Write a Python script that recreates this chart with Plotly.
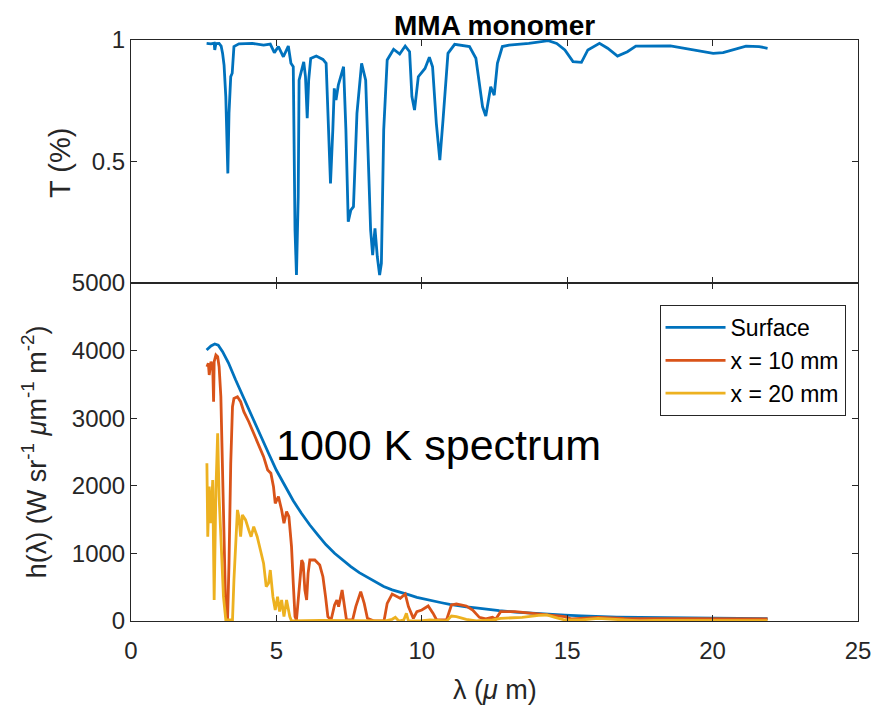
import plotly.graph_objects as go

# ---------------- data ----------------
lam_T = [2.60, 2.75, 2.86, 2.88, 2.92, 3.03, 3.10, 3.15, 3.20, 3.26, 3.33, 3.37, 3.43, 3.48, 3.54,
         3.71, 4.17, 4.56, 4.79, 4.93, 5.07, 5.24, 5.41, 5.50, 5.58, 5.64, 5.69, 5.75, 5.78, 5.86,
         5.94, 6.00, 6.06, 6.11, 6.18, 6.37, 6.60, 6.71, 6.77, 6.86, 6.94, 6.99, 7.05, 7.13, 7.31,
         7.39, 7.47, 7.56, 7.65, 7.77, 7.93, 8.07, 8.24, 8.31, 8.39, 8.47, 8.55, 8.61, 8.69, 8.81,
         9.03, 9.24, 9.43, 9.58, 9.66, 9.75, 9.88, 10.11, 10.26, 10.37, 10.50, 10.62, 10.73, 10.90,
         11.13, 11.64, 11.86, 12.09, 12.20, 12.37, 12.49, 12.60, 12.77, 13.00, 13.68, 14.35, 14.64,
         14.92, 15.20, 15.49, 15.71, 16.11, 16.39, 16.73, 17.07, 17.36, 18.55, 19.22, 20.02, 20.36,
         21.15, 21.60, 21.89]
T_vals = [0.986, 0.984, 0.987, 0.959, 0.985, 0.986, 0.975, 0.945, 0.897, 0.767, 0.451, 0.698, 0.849, 0.863, 0.973,
          0.984, 0.986, 0.979, 0.983, 0.948, 0.973, 0.931, 0.975, 0.904, 0.890, 0.218, 0.033, 0.355, 0.835, 0.869,
          0.910, 0.849, 0.678, 0.835, 0.924, 0.934, 0.920, 0.904, 0.684, 0.410, 0.630, 0.801, 0.753, 0.815, 0.890,
          0.630, 0.252, 0.300, 0.314, 0.698, 0.904, 0.835, 0.218, 0.115, 0.225, 0.108, 0.033, 0.081, 0.630, 0.918,
          0.962, 0.942, 0.975, 0.952, 0.767, 0.712, 0.849, 0.883, 0.929, 0.890, 0.657, 0.506, 0.671, 0.945,
          0.982, 0.973, 0.925, 0.725, 0.687, 0.808, 0.773, 0.904, 0.973, 0.979, 0.986, 0.997, 0.986,
          0.959, 0.911, 0.908, 0.959, 0.986, 0.966, 0.934, 0.952, 0.975, 0.976, 0.961, 0.945, 0.948,
          0.975, 0.973, 0.966]

lam_surf = [2.60, 2.75, 2.88, 3.00, 3.15, 3.35, 3.60, 3.88, 4.17, 4.45, 4.73, 5.00, 5.30, 5.58, 5.86,
            6.15, 6.43, 6.70, 7.00, 7.28, 7.56, 7.85, 8.13, 8.41, 8.69, 8.98, 9.26, 9.54, 9.83, 10.11,
            10.39, 10.68, 10.96, 11.25, 11.53, 11.86, 12.20, 12.66, 13.22, 13.79, 14.35, 14.92, 15.49,
            16.06, 16.70, 17.50, 18.50, 19.50, 20.50, 21.89]
h_surf = [4010, 4070, 4097, 4080, 3984, 3820, 3565, 3290, 3022, 2750, 2481, 2230, 1987, 1780, 1593,
          1420, 1272, 1130, 1001, 900, 804, 715, 650, 575, 510, 460, 430, 390, 350, 320,
          295, 270, 245, 225, 210, 195, 175, 153, 132, 113, 100, 86, 75,
          65, 58, 52, 48, 43, 38, 34]

lam_10 = [2.61, 2.66, 2.69, 2.75, 2.81, 2.84, 2.86, 2.92, 2.98, 3.03, 3.09, 3.15, 3.20, 3.26, 3.32,
          3.37, 3.43, 3.49, 3.54, 3.66, 3.77, 3.88, 4.05, 4.22, 4.39, 4.56, 4.70, 4.81, 4.90, 4.96,
          5.07, 5.18, 5.26, 5.35, 5.43, 5.52, 5.58, 5.64, 5.69, 5.78, 5.87, 5.92, 5.98, 6.04, 6.09,
          6.15, 6.32, 6.49, 6.60, 6.69, 6.77, 6.88, 7.00, 7.08, 7.14, 7.26, 7.33, 7.41, 7.62, 7.73,
          7.90, 8.02, 8.13, 8.36, 8.70, 8.81, 8.98, 9.15, 9.26, 9.43, 9.54, 9.71, 9.83, 10.00, 10.22,
          10.39, 10.51, 10.85, 11.02, 11.19, 11.53, 11.75, 11.98, 12.20, 12.43, 12.54, 12.71, 13.22,
          13.79, 14.24, 14.58, 14.92, 15.15, 16.06, 16.96, 18.00, 19.50, 21.89]
h_10 = [3762, 3811, 3639, 3836, 3762, 3244, 3836, 3935, 3910, 3762, 3318, 2333, 1099, 114, 15,
        853, 2333, 3170, 3293, 3318, 3244, 3096, 2948, 2776, 2579, 2431, 2234, 2185, 1988, 1741,
        1840, 1643, 1446, 1618, 1544, 1099, 557, 65, 15, 409, 902, 852, 459, 311, 705,
        902, 902, 828, 655, 360, 65, 15, 237, 311, 212, 459, 261, 15, 15, 212,
        434, 261, 40, 0, 0, 261, 399, 360, 335, 399, 212, 39, 138, 163, 222,
        113, 15, 15, 237, 251, 222, 163, 54, 30, 54, 25, 138, 138,
        113, 104, 89, 64, 30, 54, 39, 39, 30, 30]

lam_20 = [2.61, 2.64, 2.69, 2.75, 2.81, 2.86, 2.92, 2.98, 3.03, 3.09, 3.18, 3.26, 3.49, 3.54, 3.60,
          3.66, 3.71, 3.77, 3.83, 3.94, 4.05, 4.13, 4.22, 4.34, 4.45, 4.56, 4.65, 4.73, 4.79, 4.88,
          4.96, 5.04, 5.11, 5.18, 5.26, 5.35, 5.46, 5.52, 6.50, 7.50, 8.70, 8.98, 9.09, 9.21, 9.38,
          9.47, 9.54, 9.94, 10.28, 10.85, 11.02, 11.19, 11.53, 11.87, 12.43, 12.71, 13.45, 14.02,
          14.30, 14.58, 14.92, 15.49, 16.06, 16.96, 17.50, 18.00, 19.00, 20.00, 21.00, 21.89]
h_20 = [2333, 1247, 1988, 1446, 2086, 311, 1938, 2776, 1840, 1149, 360, 15, 15, 606, 1247,
        1643, 1544, 1247, 1569, 1495, 1347, 1247, 1396, 1247, 1050, 852, 508, 557, 754, 360,
        163, 360, 139, 311, 65, 311, 65, 0, 10, 5, 0, 25, 54, 0, 15,
        113, 0, 0, 15, 0, 74, 64, 25, 0, 15, 39, 54, 84,
        89, 54, 15, 15, 39, 15, 0, 10, 10, 0, 0, 5]

series_names = ["Surface", "x = 10 mm", "x = 20 mm"]
x_ticks = [0, 5, 10, 15, 20, 25]
h_ticks = [0, 1000, 2000, 3000, 4000, 5000]

# ---------------- figure ----------------
BLUE, RED, YEL = "#0072BD", "#D95319", "#EDB120"
FONT = "Liberation Sans, Arial, Helvetica, sans-serif"
AX = "#262626"
LW = 2.8

fig = go.Figure()
fig.add_trace(go.Scatter(x=lam_T, y=T_vals, mode="lines", line=dict(color=BLUE, width=LW),
                         showlegend=False, xaxis="x", yaxis="y"))
for lx, ly, nm, col in [(lam_surf, h_surf, series_names[0], BLUE),
                        (lam_10, h_10, series_names[1], RED),
                        (lam_20, h_20, series_names[2], YEL)]:
    fig.add_trace(go.Scatter(x=lx, y=ly, mode="lines", name=nm, line=dict(color=col, width=LW),
                             xaxis="x2", yaxis="y2"))

# the page body adds an 8px offset; plot area is 736 x 581 px
split = 338 / 581
common = dict(showline=True, mirror="ticks", ticks="inside", ticklen=6, tickcolor=AX, linecolor=AX,
              linewidth=1, showgrid=False, zeroline=False, tickfont=dict(size=24, color=AX, family=FONT))

fig.update_layout(
    width=875, height=697,
    margin=dict(l=123, r=16, t=32, b=84),
    paper_bgcolor="white", plot_bgcolor="white",
    font=dict(family=FONT, color=AX),
    xaxis=dict(domain=[0, 1], anchor="y", range=[0, 25], tickvals=x_ticks, showticklabels=False, **common),
    yaxis=dict(domain=[split, 1], anchor="x", range=[0, 1], tickvals=[0, 0.5, 1],
               ticktext=["", "0.5", "1"], **common),
    xaxis2=dict(domain=[0, 1], anchor="y2", range=[0, 25], tickvals=x_ticks, ticklabelstandoff=8, **common),
    yaxis2=dict(domain=[0, split], anchor="x2", range=[0, 5000], tickvals=h_ticks, **common),
    legend=dict(x=0.727, y=0.544, xanchor="left", yanchor="top", bgcolor="white",
                bordercolor=AX, borderwidth=1, font=dict(size=23, color="black", family=FONT),
                tracegroupgap=0, itemwidth=60),
    showlegend=True,
)

ann = [
    dict(text="<b>MMA monomer</b>", x=0.5, y=(621 - 25) / 581, xref="paper", yref="paper",
         showarrow=False, font=dict(size=28, color="black", family=FONT), xanchor="center", yanchor="middle"),
    dict(text="T (%)", x=(59 - 131) / 736, y=(621 - 163) / 581, xref="paper", yref="paper",
         textangle=-90, showarrow=False, font=dict(size=29, color=AX, family=FONT),
         xanchor="center", yanchor="middle"),
    dict(text="h(λ) (W sr<sup>-1</sup> <i>μ</i>m<sup>-1</sup> m<sup>-2</sup>)", x=(33 - 131) / 736,
         y=(621 - 452) / 581, xref="paper", yref="paper", textangle=-90, showarrow=False,
         font=dict(size=27, color=AX, family=FONT), xanchor="center", yanchor="middle"),
    dict(text="λ (<i>μ</i> m)", x=0.5, y=(621 - 690) / 581, xref="paper", yref="paper",
         showarrow=False, font=dict(size=27, color=AX, family=FONT), xanchor="center", yanchor="middle"),
    dict(text="1000 K spectrum", x=10.57, y=2600, xref="x2", yref="y2", showarrow=False,
         font=dict(size=43, color="black", family=FONT), xanchor="center", yanchor="middle"),
]
fig.update_layout(annotations=ann)

fig.write_html("out.html")
